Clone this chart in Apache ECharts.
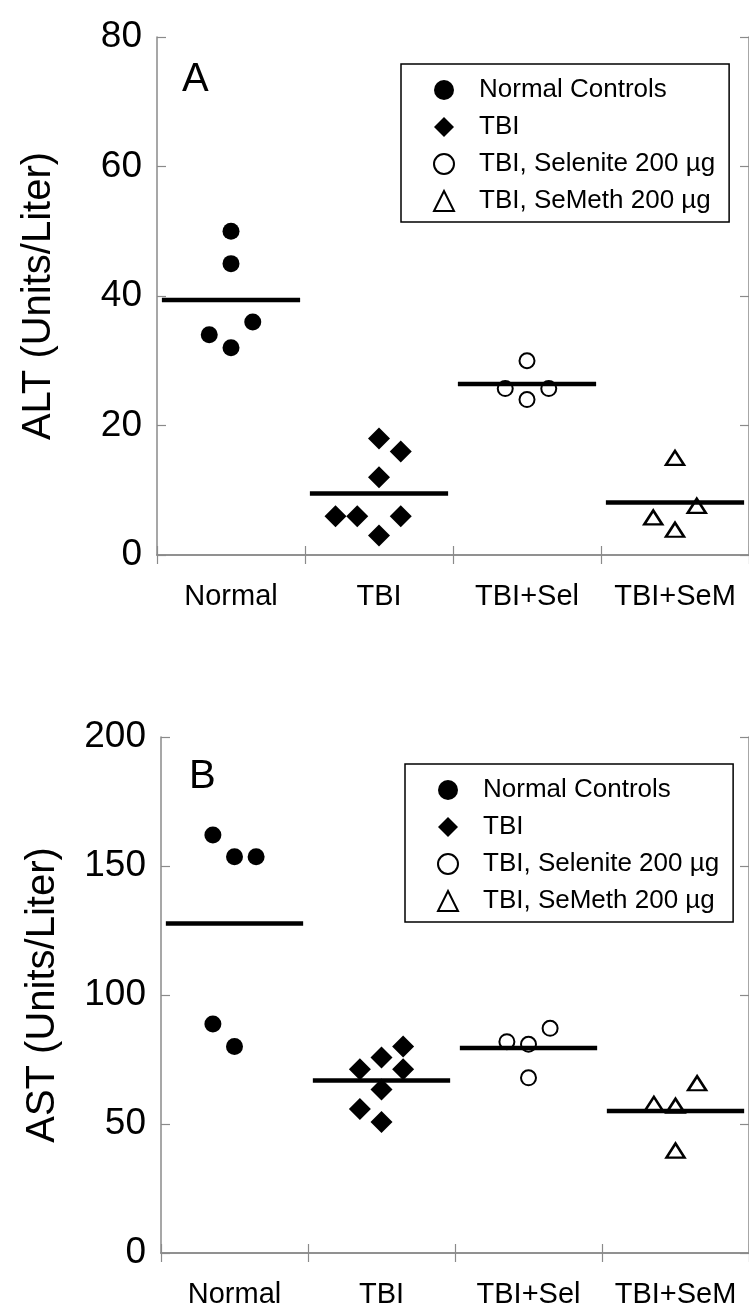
<!DOCTYPE html>
<html>
<head>
<meta charset="utf-8">
<script src="https://cdn.jsdelivr.net/npm/echarts@6/dist/echarts.min.js"></script>
<style>
  html, body { margin: 0; padding: 0; background: #fff; }
  #main { width: 749px; height: 1309px; }
</style>
</head>
<body>
<div id="main"></div>
<script>
// groups on the x axis
var groups = ['Normal', 'TBI', 'TBI+Sel', 'TBI+SeM'];
var seriesNames = ['Normal Controls', 'TBI', 'TBI, Selenite 200 µg', 'TBI, SeMeth 200 µg'];

// panel A - ALT
var altTicks = [0, 20, 40, 60, 80];
var altNormal = [50, 45, 34, 32, 36];
var altNormalJit = [0, 0, -1, 0, 1];
var altTbi = [18, 16, 12, 6, 6, 6, 3];
var altTbiJit = [0, 1, 0, -2, -1, 1, 0];
var altSel = [30, 25.7, 25.7, 24];
var altSelJit = [0, -1, 1, 0];
var altSem = [15, 7.6, 5.8, 3.9];
var altSemJit = [0, 1, -1, 0];
var altMeans = [39.4, 9.5, 26.4, 8.1];

// panel B - AST
var astTicks = [0, 50, 100, 150, 200];
var astNormal = [162, 153.6, 153.6, 88.8, 80];
var astNormalJit = [-1, 0, 1, -1, 0];
var astTbi = [80, 75.8, 71.2, 71.2, 63.4, 55.8, 50.8];
var astTbiJit = [1, 0, -1, 1, 0, -1, 0];
var astSel = [87.1, 81.9, 80.9, 67.9];
var astSelJit = [1, -1, 0, 0];
var astSem = [65.8, 57.8, 57.1, 39.7];
var astSemJit = [1, -1, 0, 0];
var astMeans = [127.7, 66.9, 79.5, 55.0];

var FONT = '"Liberation Sans", Arial, sans-serif';
var STEP = 0.147;   // jitter step in category units
var HALF = 0.467;   // half length of the mean bar
var AXIS_GREY = '#8a8a8a';

// marker styles, one per group
var marks = [
    {symbol: 'circle', size: 17, style: {color: '#000', opacity: 1}},
    {symbol: 'diamond', size: 22, style: {color: '#000', opacity: 1}},
    {symbol: 'circle', size: 15, style: {color: '#fff', borderColor: '#000', borderWidth: 2, opacity: 1}},
    {symbol: 'triangle', size: [18, 14], style: {color: '#fff', borderColor: '#000', borderWidth: 2.5, opacity: 1}}
];

function toPoints(vals, jit, g) {
    var out = [];
    for (var i = 0; i < vals.length; i++) {
        out.push([g + 0.5 + jit[i] * STEP, vals[i]]);
    }
    return out;
}

// axes for one panel
function panelAxes(p, max, interval, name) {
    var tick = {show: true, inside: true, length: 9, lineStyle: {color: AXIS_GREY, width: 1.2}};
    var line = {show: true, lineStyle: {color: AXIS_GREY, width: 1.5}};
    var x = [
        {
            gridIndex: p, type: 'category', position: 'bottom', data: groups,
            axisLine: line, axisTick: tick,
            axisLabel: {color: '#000', fontSize: 29, fontFamily: FONT, margin: 27, interval: 0, hideOverlap: false},
            splitLine: {show: false}
        },
        {
            gridIndex: p, type: 'category', position: 'top', data: groups,
            axisLine: line, axisTick: tick, axisLabel: {show: false}, splitLine: {show: false}
        },
        {gridIndex: p, type: 'value', min: 0, max: 4, show: false}
    ];
    var y = [
        {
            gridIndex: p, type: 'value', position: 'left', min: 0, max: max, interval: interval,
            name: name, nameLocation: 'middle', nameGap: 98,
            nameTextStyle: {color: '#000', fontSize: 40, fontFamily: FONT},
            axisLine: line, axisTick: tick,
            axisLabel: {color: '#000', fontSize: 37, fontFamily: FONT, margin: 15},
            splitLine: {show: false}
        },
        {
            gridIndex: p, type: 'value', position: 'right', min: 0, max: max, interval: interval,
            axisLine: line, axisTick: tick, axisLabel: {show: false}, splitLine: {show: false}
        }
    ];
    return {x: x, y: y};
}

// scatter + mean bars for one panel
function panelSeries(p, sets, means) {
    var out = [];
    for (var g = 0; g < sets.length; g++) {
        out.push({
            name: seriesNames[g],
            type: 'scatter',
            xAxisIndex: p * 3 + 2,
            yAxisIndex: p * 2,
            symbol: marks[g].symbol,
            symbolSize: marks[g].size,
            itemStyle: marks[g].style,
            z: 2,
            data: toPoints(sets[g][0], sets[g][1], g)
        });
    }
    for (var k = 0; k < means.length; k++) {
        out.push({
            type: 'line',
            xAxisIndex: p * 3 + 2,
            yAxisIndex: p * 2,
            symbol: 'none',
            z: 3,
            lineStyle: {color: '#000', width: 4.5},
            data: [[k + 0.5 - HALF, means[k]], [k + 0.5 + HALF, means[k]]]
        });
    }
    return out;
}

function legendAt(left, top) {
    return {
        left: left, top: top,
        orient: 'vertical',
        data: seriesNames,
        itemWidth: 20, itemHeight: 20, itemGap: 11,
        padding: [13, 14, 8, 32],
        borderColor: '#000', borderWidth: 1.5,
        selectedMode: false,
        textStyle: {color: '#000', fontSize: 26, fontFamily: FONT, lineHeight: 18, padding: [0, 0, 0, 20]}
    };
}

var axA = panelAxes(0, 80, 20, 'ALT (Units/Liter)');
var axB = panelAxes(1, 200, 50, 'AST (Units/Liter)');

var option = {
    backgroundColor: '#fff',
    animation: false,
    grid: [
        {left: 157, top: 37, width: 600, height: 518},
        {left: 161, top: 737, width: 603, height: 516}
    ],
    xAxis: axA.x.concat(axB.x),
    yAxis: axA.y.concat(axB.y),
    legend: [legendAt(401, 64), legendAt(405, 764)],
    graphic: [
        {type: 'text', left: 182, top: 60, style: {text: 'A', fontSize: 40, fontFamily: FONT, fill: '#000'}},
        {type: 'text', left: 189, top: 757, style: {text: 'B', fontSize: 40, fontFamily: FONT, fill: '#000'}}
    ],
    series: panelSeries(0, [[altNormal, altNormalJit], [altTbi, altTbiJit], [altSel, altSelJit], [altSem, altSemJit]], altMeans)
        .concat(panelSeries(1, [[astNormal, astNormalJit], [astTbi, astTbiJit], [astSel, astSelJit], [astSem, astSemJit]], astMeans))
};

var myChart = echarts.init(document.getElementById('main'), null, {renderer: 'canvas'});
myChart.setOption(option);
</script>
</body>
</html>
